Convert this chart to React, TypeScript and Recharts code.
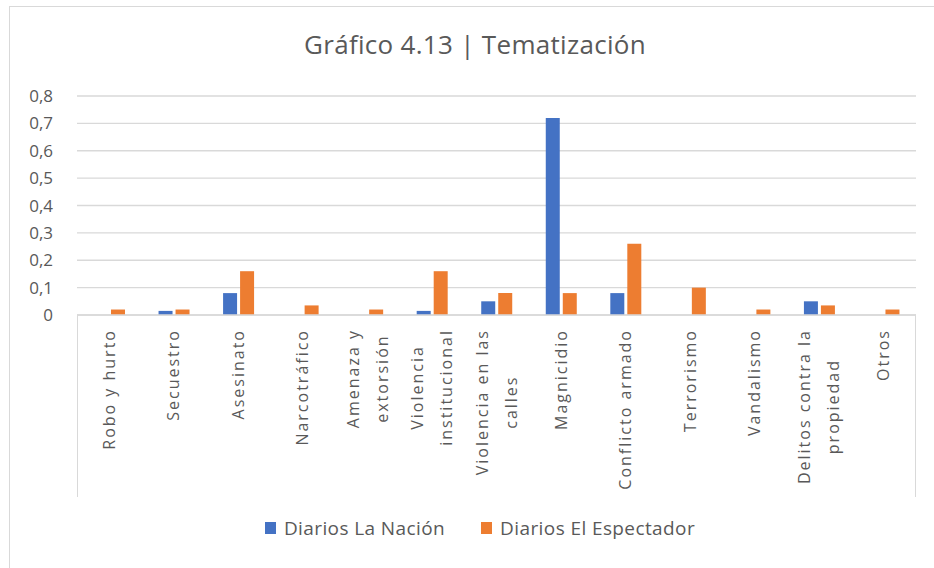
import { BarChart, Bar, XAxis, YAxis, CartesianGrid } from "recharts";

// Gráfico 4.13 | Tematización
const categories = [
  "Robo y hurto",
  "Secuestro",
  "Asesinato",
  "Narcotráfico",
  "Amenaza y\nextorsión",
  "Violencia\ninstitucional",
  "Violencia en las\ncalles",
  "Magnicidio",
  "Conflicto armado",
  "Terrorismo",
  "Vandalismo",
  "Delitos contra la\npropiedad",
  "Otros",
];
const laNacion = [0, 0.015, 0.08, 0, 0, 0.015, 0.05, 0.72, 0.08, 0, 0, 0.05, 0];
const elEspectador = [0.02, 0.02, 0.16, 0.035, 0.02, 0.16, 0.08, 0.08, 0.26, 0.1, 0.02, 0.035, 0.02];
const yTicks = [0, 0.1, 0.2, 0.3, 0.4, 0.5, 0.6, 0.7, 0.8];

const series = [
  { key: "laNacion", name: "Diarios La Nación", color: "#4472C4" },
  { key: "elEspectador", name: "Diarios El Espectador", color: "#ED7D31" },
];

const data = categories.map((name, i) => ({
  name,
  laNacion: laNacion[i],
  elEspectador: elEspectador[i],
}));

const W = 934;
const H = 568;
const FONT = "'Open Sans', sans-serif";
const TEXT = "#595959";
const GRID = "#d9d9d9";
const margin = { top: 96, right: 18, bottom: 71, left: 0 };
const Y_AXIS_W = 77;
const X_AXIS_H = 182;

const LABEL_SIZE = 16;
const LABEL_SPACING = 2;
const LINE_GAP = 29;

let ctx: CanvasRenderingContext2D | null = null;
const measure = (s: string) => {
  if (!ctx) {
    ctx = document.createElement("canvas").getContext("2d");
  }
  if (!ctx) return s.length * 10;
  ctx.font = `${LABEL_SIZE}px 'Open Sans'`;
  (ctx as any).letterSpacing = `${LABEL_SPACING}px`;
  return ctx.measureText(s).width;
};

const CategoryTick = ({ x, y, payload }: any) => {
  const lines = String(payload.value).split("\n");
  const maxW = Math.max(...lines.map(measure));
  const cy = y + maxW / 2;
  return (
    <g>
      {lines.map((ln, i) => {
        const lx = x + (i - (lines.length - 1) / 2) * LINE_GAP;
        return (
          <text
            key={i}
            x={lx}
            y={cy}
            dy="0.35em"
            transform={`rotate(-90 ${lx} ${cy})`}
            textAnchor="middle"
            fill={TEXT}
            fontSize={LABEL_SIZE}
            fontFamily={FONT}
            letterSpacing={LABEL_SPACING}
          >
            {ln}
          </text>
        );
      })}
    </g>
  );
};

const fmtY = (v: number) => (v === 0 ? "0" : v.toFixed(1).replace(".", ","));

export default function App() {
  const plotLeft = margin.left + Y_AXIS_W;
  const plotRight = W - margin.right;
  const axisY = H - margin.bottom - X_AXIS_H;
  const boxBottom = H - margin.bottom;

  return (
    <div
      style={{
        position: "absolute",
        left: 0,
        top: 0,
        width: W,
        height: H,
        overflow: "hidden",
        background: "#fff",
        fontFamily: FONT,
      }}
    >
      <div
        style={{
          position: "absolute",
          left: 9,
          top: 6,
          width: 1000,
          height: 1000,
          border: `1px solid ${GRID}`,
        }}
      />
      <div
        style={{
          position: "absolute",
          left: 0,
          top: 27,
          width: 950,
          textAlign: "center",
          fontSize: 26,
          letterSpacing: 0.3,
          color: TEXT,
          lineHeight: "34px",
        }}
      >
        Gráfico 4.13 | Tematización
      </div>

      <div style={{ position: "absolute", left: 0, top: 0 }}>
        <BarChart width={W} height={H} data={data} margin={margin} barSize={14} barGap={3}>
          <CartesianGrid vertical={false} stroke={GRID} strokeWidth={1.3} />
          <XAxis
            dataKey="name"
            interval={0}
            height={X_AXIS_H}
            tickLine={false}
            tickMargin={8}
            axisLine={{ stroke: GRID, strokeWidth: 1.3 }}
            tick={<CategoryTick />}
          />
          <YAxis
            width={Y_AXIS_W}
            domain={[0, 0.8]}
            ticks={yTicks}
            tickFormatter={fmtY}
            axisLine={false}
            tickLine={false}
            tickMargin={18}
            tick={{ fill: TEXT, fontSize: 17, fontFamily: FONT }}
          />
          {series.map((s) => (
            <Bar key={s.key} dataKey={s.key} name={s.name} fill={s.color} isAnimationActive={false} />
          ))}
        </BarChart>
      </div>

      {/* frame of the category label area */}
      <div
        style={{
          position: "absolute",
          left: plotLeft,
          top: axisY,
          width: 1.3,
          height: boxBottom - axisY,
          background: GRID,
        }}
      />
      <div
        style={{
          position: "absolute",
          left: plotRight - 1,
          top: axisY,
          width: 1.3,
          height: boxBottom - axisY,
          background: GRID,
        }}
      />

      <div
        style={{
          position: "absolute",
          left: 0,
          top: 515,
          width: 960,
          display: "flex",
          justifyContent: "center",
          gap: 36,
          fontSize: 19,
          letterSpacing: 0.4,
          color: TEXT,
          lineHeight: "26px",
        }}
      >
        {series.map((s) => (
          <div key={s.key} style={{ display: "flex", alignItems: "center" }}>
            <span style={{ width: 11, height: 12, background: s.color, marginRight: 8 }} />
            {s.name}
          </div>
        ))}
      </div>
    </div>
  );
}
